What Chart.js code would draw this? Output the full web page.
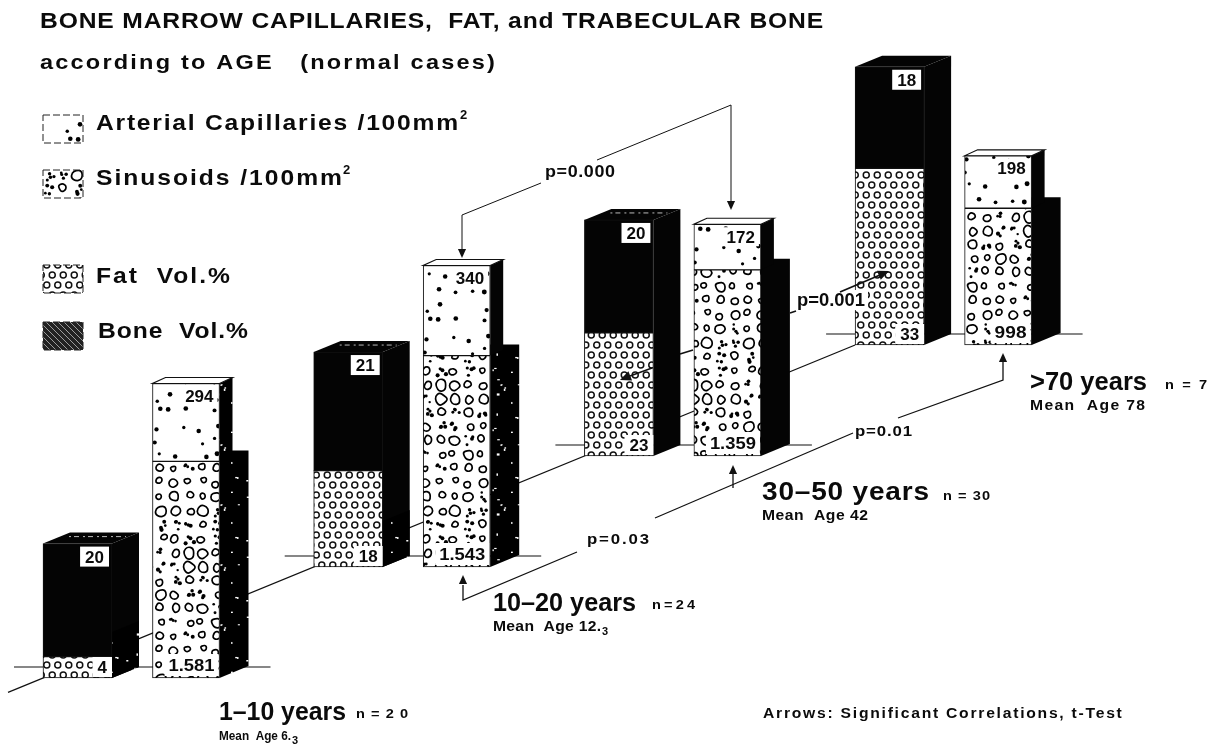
<!DOCTYPE html>
<html>
<head>
<meta charset="utf-8">
<title>Bone marrow capillaries, fat and trabecular bone according to age</title>
<script src="https://cdn.jsdelivr.net/npm/chart.js@4/dist/chart.umd.min.js"></script>
<style>
  html, body { margin: 0; background: #fff; }
  canvas { display: block; }
</style>
</head>
<body>
<canvas id="chart" width="1216" height="748"></canvas>
<script>
// values as printed on the bars
const ageGroups = ['1\u201310 years', '10\u201320 years', '30\u201350 years', '>70 years'];
const caseCounts = ['n=20', 'n=24', 'n = 30', 'n = 7'];
const meanAges = ['6.3', '12.3', '42', '78'];
const fatVol = [4, 18, 23, 33];
const boneVol = [20, 21, 20, 18];
const sinusoids = [1581, 1543, 1359, 998];
const arterial = [294, 340, 172, 198];

// the drawing is a fake perspective: each group sits further back and higher up
const groupStepX = 270.7;
const groupStepY = 111;
const floorY = 70;
const leftBarX = 77.5;
const rightBarX = 186;
const volScale = { fat: 5.35, bone: 5.65 };
const countScale = { sinusoids: 0.137, arterial: 0.265 };

const floorOf = g => floorY + g * groupStepY;
const FONT = '"Liberation Sans", Arial, sans-serif';

// texture helpers, only for the printed look of the fills
const hash = n => { const s = Math.sin(n * 12.9898) * 43758.5453; return s - Math.floor(s); };

function tile(w, h, bg, paint) {
  const c = document.createElement('canvas');
  c.width = w; c.height = h;
  const t = c.getContext('2d');
  t.fillStyle = bg;
  t.fillRect(0, 0, w, h);
  paint(t);
  return t.createPattern(c, 'repeat');
}

const ringPattern = tile(11, 20, '#fff', t => {
  t.strokeStyle = '#111';
  t.lineWidth = 1.5;
  [[2.75, 5], [8.25, 15], [13.75, 5], [-2.75, 15]].forEach(([x, y]) => {
    t.beginPath();
    t.arc(x, y, 3, 0, Math.PI * 2);
    t.stroke();
  });
});

const dotPattern = tile(90, 90, '#fff', t => {
  t.fillStyle = '#000';
  for (let i = 0; i < 36; i++) {
    if (hash(i + 1) > 0.66) continue;
    const x = (i % 6) * 15 + 3 + hash(i + 40) * 9;
    const y = Math.floor(i / 6) * 15 + 3 + hash(i + 80) * 9;
    t.beginPath();
    t.arc(x, y, 1.6 + hash(i + 120) * 0.9, 0, Math.PI * 2);
    t.fill();
  }
});

const blobPattern = tile(84, 168, '#fff', t => {
  t.strokeStyle = '#000';
  t.fillStyle = '#000';
  for (let i = 0; i < 72; i++) {
    const cx = (i % 6) * 14 + 7;
    const cy = Math.floor(i / 6) * 14 + 7;
    if (hash(i + 7) < 0.62) {
      const r = 3 + hash(i + 11) * 3.4;
      const ox = cx + (hash(i + 13) - 0.5) * Math.max(0, 13 - 2 * r);
      const oy = cy + (hash(i + 17) - 0.5) * Math.max(0, 13 - 2 * r);
      const pts = [];
      for (let k = 0; k < 7; k++) {
        const a = k / 7 * Math.PI * 2;
        const rr = r * (0.72 + 0.4 * hash(i * 7 + k + 3));
        pts.push([ox + Math.cos(a) * rr, oy + Math.sin(a) * rr]);
      }
      t.lineWidth = 1.7;
      t.beginPath();
      pts.forEach((p, k) => {
        const n = pts[(k + 1) % 7];
        const mx = (p[0] + n[0]) / 2, my = (p[1] + n[1]) / 2;
        if (k === 0) t.moveTo(mx, my); else t.quadraticCurveTo(p[0], p[1], mx, my);
      });
      t.quadraticCurveTo(pts[0][0], pts[0][1], (pts[0][0] + pts[1][0]) / 2, (pts[0][1] + pts[1][1]) / 2);
      t.stroke();
    } else {
      for (let k = 0; k < 4; k++) {
        t.beginPath();
        t.arc(cx - 5 + hash(i + k * 5) * 10, cy - 5 + hash(i + k * 9 + 1) * 10, 1.2 + hash(i + k) * 0.9, 0, Math.PI * 2);
        t.fill();
      }
    }
  }
});

const speckPattern = tile(40, 60, '#000', t => {
  t.fillStyle = '#fff';
  for (let i = 0; i < 16; i++) {
    t.fillRect(hash(i + 3) * 38, hash(i + 23) * 58, 1 + hash(i + 43) * 2, 1 + hash(i + 63) * 2);
  }
});

const wavePattern = tile(6, 6, '#222', t => {
  t.strokeStyle = '#bbb';
  t.lineWidth = 0.8;
  t.beginPath();
  t.moveTo(0, 0); t.lineTo(6, 6);
  t.moveTo(-3, 3); t.lineTo(3, 9);
  t.moveTo(3, -3); t.lineTo(9, 3);
  t.stroke();
});

function poly(ctx, pts, fill, stroke) {
  ctx.beginPath();
  pts.forEach((p, i) => (i ? ctx.lineTo(p[0], p[1]) : ctx.moveTo(p[0], p[1])));
  ctx.closePath();
  if (fill) { ctx.fillStyle = fill; ctx.fill(); }
  if (stroke) { ctx.strokeStyle = stroke; ctx.lineWidth = 1.2; ctx.stroke(); }
}

function line(ctx, pts, width) {
  ctx.strokeStyle = '#111';
  ctx.lineWidth = width || 1;
  ctx.beginPath();
  pts.forEach((p, i) => (i ? ctx.lineTo(p[0], p[1]) : ctx.moveTo(p[0], p[1])));
  ctx.stroke();
}

function arrowHead(ctx, x, y, angle, size) {
  ctx.save();
  ctx.translate(x, y);
  ctx.rotate(angle);
  poly(ctx, [[0, 0], [-size, -size * 0.45], [-size, size * 0.45]], '#111');
  ctx.restore();
}

// the original lettering is a wide grotesque: stretch a little, then space out the rest
function text(ctx, str, x, y, font, width) {
  ctx.save();
  ctx.font = font;
  ctx.fillStyle = '#0b0b0b';
  ctx.textAlign = 'left';
  ctx.textBaseline = 'alphabetic';
  ctx.letterSpacing = '0px';
  ctx.translate(x, y);
  if (width) {
    const w = ctx.measureText(str).width;
    const stretch = Math.min(1.12, width / w);
    ctx.scale(stretch, 1);
    ctx.letterSpacing = ((width / stretch - w) / Math.max(1, str.length - 1)).toFixed(2) + 'px';
  }
  ctx.fillText(str, 0, 0);
  ctx.restore();
}

function boxedLabel(ctx, str, right, bottom, h, font, width, pad) {
  ctx.font = font;
  const w = width || ctx.measureText(str).width;
  ctx.fillStyle = '#fff';
  ctx.fillRect(right - w - pad * 2, bottom - h, w + pad * 2, h);
  text(ctx, str, right - pad - w, bottom - h / 2 + 6, font, width);
}

const barsOf = (chart, i) => chart.getDatasetMeta(i).data;

// floor line, tick lines and the extruded faces, all hung on the bar elements
const boxFaces = {
  id: 'boxFaces',
  beforeDatasetsDraw(chart) {
    const { ctx } = chart;
    const fat = barsOf(chart, 0), bone = barsOf(chart, 1), sin = barsOf(chart, 2), art = barsOf(chart, 3);
    const corner = i => [fat[i].x - fat[i].width / 2, fat[i].base];
    const a = corner(0), b = corner(3);
    const slope = (b[1] - a[1]) / (b[0] - a[0]);
    line(ctx, [[a[0] - 35, a[1] - slope * 35], b], 1.2);

    ageGroups.forEach((_, g) => {
      const left = fat[g].x - fat[g].width / 2;
      const right = sin[g].x + sin[g].width / 2;
      line(ctx, [[left - 29, fat[g].base - 11], [right + 51, fat[g].base - 11]], 1.2);

      // left column
      const lr = fat[g].x + fat[g].width / 2;
      const dx = 27, dy = -11;
      poly(ctx, [[lr, fat[g].base], [lr + dx, fat[g].base + dy], [lr + dx, bone[g].y + dy], [lr, bone[g].y]], '#040404');
      if (g < 2) {
        const top = fat[g].base - 46;
        poly(ctx, [[lr, fat[g].base], [lr + dx, fat[g].base + dy], [lr + dx, top + dy], [lr, top]], speckPattern);
      }
      poly(ctx, [[left, bone[g].y], [lr, bone[g].y], [lr + dx, bone[g].y + dy], [left + dx, bone[g].y + dy]], '#040404');
      if (g < 3) {
        ctx.save();
        ctx.setLineDash([2, 3, 5, 4]);
        ctx.strokeStyle = '#bbb';
        ctx.lineWidth = 1;
        ctx.beginPath();
        ctx.moveTo(left + 26, bone[g].y - 7);
        ctx.lineTo(lr + 14, bone[g].y - 7);
        ctx.stroke();
        ctx.restore();
      }

      // right column: deep block for the sinusoids, shallower for the arterial part
      const d2 = 29, d3 = 13;
      const face = g < 2 ? speckPattern : '#040404';
      poly(ctx, [[right, sin[g].base], [right + d2, sin[g].base - 12], [right + d2, sin[g].y - 11], [right, sin[g].y - 11]], face);
      poly(ctx, [[right, sin[g].y], [right + d3, sin[g].y - 6], [right + d3, art[g].y - 6], [right, art[g].y]], g === 0 ? speckPattern : '#040404');
      const rl = art[g].x - art[g].width / 2;
      poly(ctx, [[rl, art[g].y], [right, art[g].y], [right + d3, art[g].y - 6], [rl + d3, art[g].y - 6]], '#fff', '#111');
    });
  },
  afterDatasetsDraw(chart) {
    const { ctx } = chart;
    const fat = barsOf(chart, 0), bone = barsOf(chart, 1), sin = barsOf(chart, 2), art = barsOf(chart, 3);
    const bold = s => `bold ${s}px ${FONT}`;

    ageGroups.forEach((_, g) => {
      const lr = fat[g].x + fat[g].width / 2;
      const rr = sin[g].x + sin[g].width / 2;
      boxedLabel(ctx, String(boneVol[g]), lr - 3, bone[g].y + 23, 20, bold(17), 0, 5);
      boxedLabel(ctx, String(fatVol[g]), lr, fat[g].base - 1, 20, bold(17), 0, 5);
      const sinText = sinusoids[g] >= 1000 ? (sinusoids[g] / 1000).toFixed(3) : String(sinusoids[g]);
      boxedLabel(ctx, sinText, rr - 1, sin[g].base - 2, 22, bold(17), sinusoids[g] >= 1000 ? 46 : 32, 4);
      boxedLabel(ctx, String(arterial[g]), rr - 2, art[g].y + 22, 19, bold(17), 0, 4);
    });

    // bracket arrows between groups
    line(ctx, [[541, 183], [462, 215], [462, 250]]);
    arrowHead(ctx, 462, 258, Math.PI / 2, 9);
    line(ctx, [[597, 160], [731, 105], [731, 202]]);
    arrowHead(ctx, 731, 210, Math.PI / 2, 9);
    line(ctx, [[577, 552], [463, 600], [463, 585]], 1.3);
    arrowHead(ctx, 463, 575, -Math.PI / 2, 9);
    line(ctx, [[655, 518], [853, 433]], 1.2);
    line(ctx, [[733, 488], [733, 473]], 1.3);
    arrowHead(ctx, 733, 465, -Math.PI / 2, 9);
    line(ctx, [[898, 418], [1003, 380], [1003, 362]], 1.3);
    arrowHead(ctx, 1003, 353, -Math.PI / 2, 9);
    line(ctx, [[652, 368], [630, 376]], 1.6);
    arrowHead(ctx, 620, 380, Math.PI - 0.38, 11);
    line(ctx, [[680, 354], [693, 350]], 1.6);
    line(ctx, [[790, 313], [796, 311]], 1.6);
    line(ctx, [[840, 292], [880, 275]], 1.8);
    arrowHead(ctx, 889, 271, -0.4, 11);

    text(ctx, 'p=0.000', 545, 177, bold(16), 70);
    ctx.fillStyle = '#fff';
    ctx.fillRect(854, 290, 14, 20);
    text(ctx, 'p=0.001', 797, 306, bold(18), 68);
    text(ctx, 'p=0.03', 587, 544, bold(15), 62);
    text(ctx, 'p=0.01', 855, 436, bold(15), 57);

    // header
    text(ctx, 'BONE MARROW CAPILLARIES,  FAT, and TRABECULAR BONE', 40, 28, bold(22), 783);
    text(ctx, 'according to AGE   (normal cases)', 40, 69, bold(21), 455);

    // legend
    const swatches = [[115, dotPattern], [170, blobPattern], [265, ringPattern], [322, wavePattern]];
    swatches.forEach(([y, fill]) => {
      ctx.fillStyle = fill;
      ctx.fillRect(43, y, 40, 28);
      ctx.save();
      ctx.setLineDash([7, 3]);
      ctx.strokeStyle = '#222';
      ctx.lineWidth = 1;
      ctx.strokeRect(43, y, 40, 28);
      ctx.restore();
    });
    text(ctx, 'Arterial Capillaries /100mm', 96, 130, bold(22), 362);
    text(ctx, '2', 460, 119, bold(13));
    text(ctx, 'Sinusoids /100mm', 96, 185, bold(22), 246);
    text(ctx, '2', 343, 174, bold(13));
    text(ctx, 'Fat  Vol.%', 96, 283, bold(22), 134);
    text(ctx, 'Bone  Vol.%', 98, 338, bold(22), 150);

    // group captions
    const captionAt = [[219, 720, 127, 356, 52, 718], [493, 611, 143, 652, 43, 609], [762, 500, 167, 943, 47, 500], [1030, 390, 117, 1165, 42, 389]];
    const meanWidth = [72, 108, 106, 115];
    const meanFont = [12, 14, 14, 14];
    captionAt.forEach(([x, y, w, nx, nw, ny], g) => {
      text(ctx, ageGroups[g], x, y, bold(25), w);
      text(ctx, caseCounts[g], nx, ny, bold(13), nw);
      const [whole, frac] = meanAges[g].split('.');
      const head = 'Mean  Age ' + whole + (frac ? '.' : '');
      text(ctx, head, x, y + 20, bold(meanFont[g]), meanWidth[g]);
      if (frac) text(ctx, frac, x + meanWidth[g] + 1, y + 24, bold(11));
    });
    text(ctx, 'Arrows: Significant Correlations, t-Test', 763, 718, bold(14), 359);
  }
};

const floatBars = (values, scale, x, under) => values.map((v, g) => {
  const start = floorOf(g) + (under ? under[g] : 0);
  return { x: x + g * groupStepX, y: [start, start + v * scale] };
});
const fatHeights = fatVol.map(v => v * volScale.fat);
const sinHeights = sinusoids.map(v => v * countScale.sinusoids);

new Chart(document.getElementById('chart'), {
  type: 'bar',
  data: {
    datasets: [
      { label: 'Fat Vol.%', data: floatBars(fatVol, volScale.fat, leftBarX), backgroundColor: ringPattern, barThickness: 69 },
      { label: 'Bone Vol.%', data: floatBars(boneVol, volScale.bone, leftBarX, fatHeights), backgroundColor: '#040404', barThickness: 69 },
      { label: 'Sinusoids /100mm2', data: floatBars(sinusoids, countScale.sinusoids, rightBarX), backgroundColor: blobPattern, barThickness: 67 },
      { label: 'Arterial Capillaries /100mm2', data: floatBars(arterial, countScale.arterial, rightBarX, sinHeights), backgroundColor: dotPattern, barThickness: 67 }
    ]
  },
  options: {
    responsive: false,
    animation: false,
    grouped: false,
    layout: { padding: 0 },
    borderColor: '#111',
    borderWidth: 1,
    borderSkipped: false,
    plugins: { legend: { display: false }, title: { display: false }, tooltip: { enabled: false } },
    scales: {
      x: { type: 'linear', min: 0, max: 1216, offset: false, display: false },
      y: { type: 'linear', min: 0, max: 748, display: false }
    }
  },
  plugins: [boxFaces]
});
</script>
</body>
</html>
